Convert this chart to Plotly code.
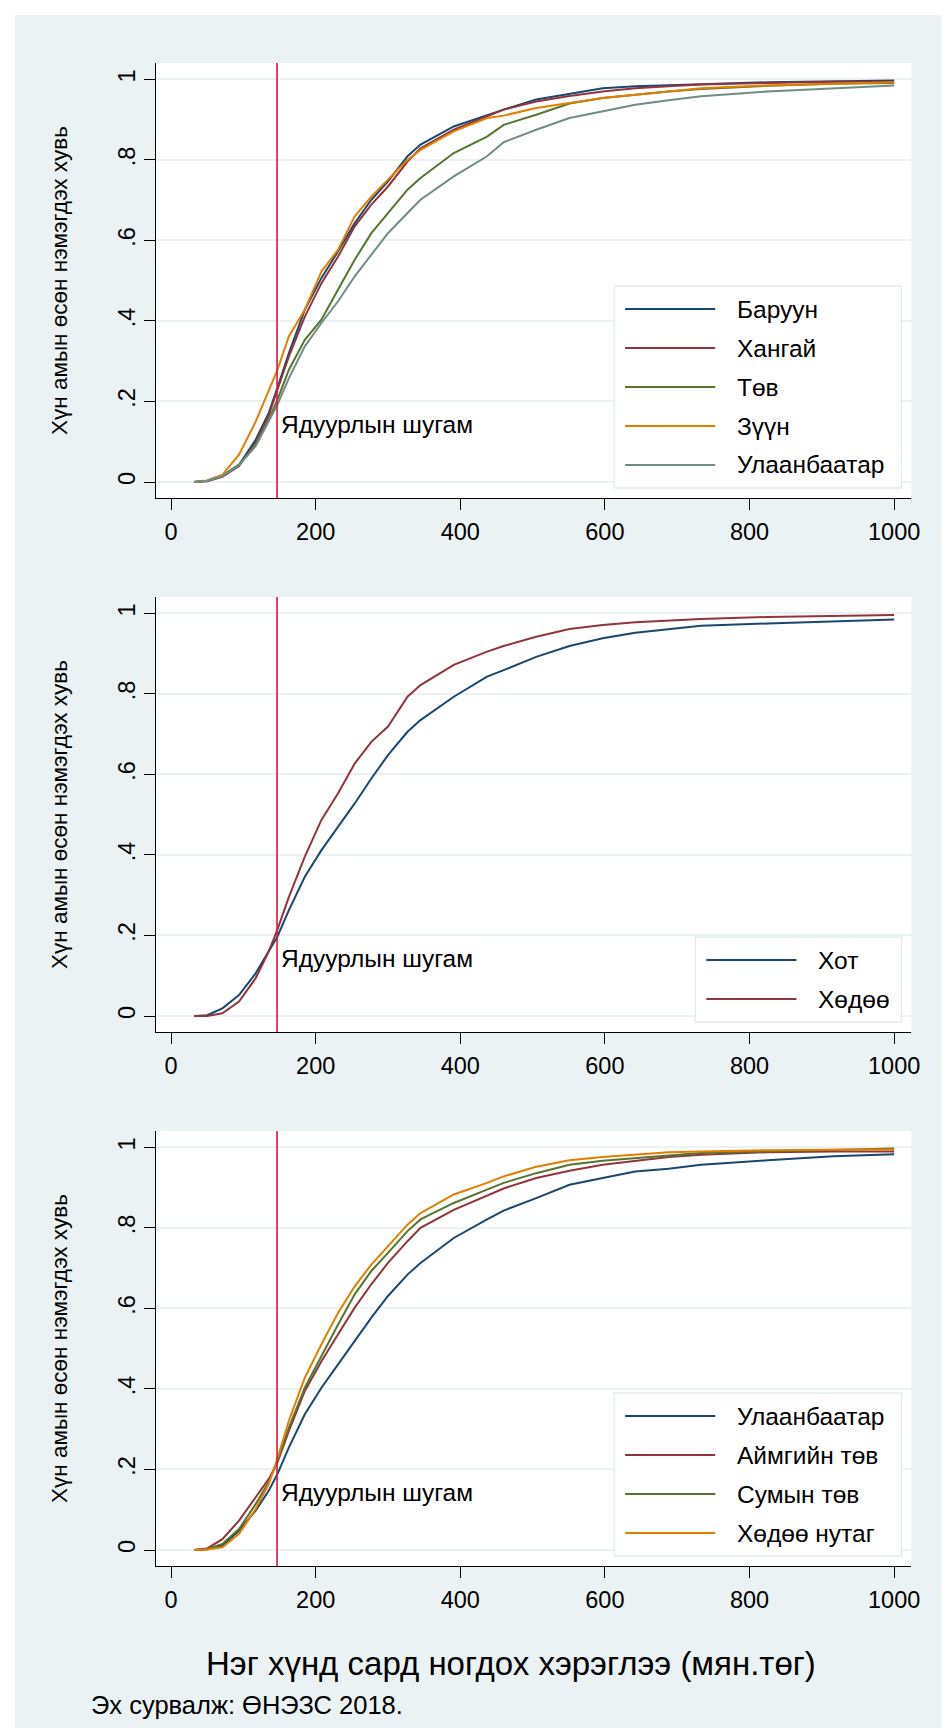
import plotly.graph_objects as go

# --- data ---
consumption = [32, 50, 71, 94, 117, 135, 147, 163, 185, 208, 231, 254, 277, 300, 327,
               345, 391, 437, 460, 505, 551, 597, 642, 688, 733, 825, 916, 1000]
poverty_line = 146.6

region_names = ["Баруун", "Хангай", "Төв", "Зүүн", "Улаанбаатар"]
baruun = [0, 0.003, 0.016, 0.043, 0.105, 0.171, 0.233, 0.32, 0.428, 0.507, 0.573, 0.643, 0.701, 0.747,
          0.809, 0.838, 0.883, 0.912, 0.925, 0.95, 0.964, 0.978, 0.983, 0.986, 0.988, 0.993, 0.996, 0.997]
khangai = [0, 0.002, 0.013, 0.04, 0.097, 0.165, 0.229, 0.312, 0.411, 0.494, 0.56, 0.635, 0.689, 0.734,
           0.796, 0.829, 0.875, 0.908, 0.925, 0.945, 0.959, 0.97, 0.978, 0.983, 0.987, 0.991, 0.994, 0.994]
tuv = [0, 0.003, 0.015, 0.042, 0.093, 0.155, 0.204, 0.279, 0.353, 0.403, 0.478, 0.552, 0.618, 0.668,
       0.726, 0.755, 0.817, 0.858, 0.887, 0.912, 0.94, 0.954, 0.962, 0.97, 0.976, 0.984, 0.989, 0.991]
zuun = [0, 0.004, 0.018, 0.068, 0.15, 0.228, 0.278, 0.362, 0.428, 0.523, 0.577, 0.66, 0.709, 0.751,
        0.80, 0.825, 0.871, 0.904, 0.91, 0.929, 0.941, 0.954, 0.962, 0.971, 0.978, 0.985, 0.99, 0.993]
ub_region = [0, 0.003, 0.015, 0.042, 0.089, 0.15, 0.192, 0.258, 0.337, 0.395, 0.449, 0.511, 0.565, 0.618,
             0.668, 0.701, 0.759, 0.809, 0.844, 0.875, 0.904, 0.921, 0.937, 0.948, 0.958, 0.97, 0.978, 0.985]

area_names = ["Хот", "Хөдөө"]
khot = [0, 0.002, 0.019, 0.052, 0.106, 0.16, 0.197, 0.263, 0.346, 0.412, 0.47, 0.528, 0.59, 0.648,
        0.706, 0.735, 0.793, 0.843, 0.859, 0.892, 0.919, 0.938, 0.952, 0.961, 0.969, 0.975, 0.981, 0.985]
khudoo = [0, 0, 0.007, 0.036, 0.094, 0.16, 0.214, 0.296, 0.396, 0.487, 0.553, 0.627, 0.681, 0.719,
          0.793, 0.822, 0.872, 0.905, 0.919, 0.942, 0.961, 0.971, 0.978, 0.982, 0.986, 0.991, 0.994, 0.996]

loc_names = ["Улаанбаатар", "Аймгийн төв", "Сумын төв", "Хөдөө нутаг"]
ub_loc = [0, 0.002, 0.011, 0.048, 0.098, 0.147, 0.188, 0.255, 0.337, 0.403, 0.461, 0.519, 0.577, 0.631,
          0.684, 0.713, 0.775, 0.821, 0.843, 0.874, 0.907, 0.924, 0.94, 0.947, 0.957, 0.968, 0.978, 0.983]
aimag = [0, 0.004, 0.027, 0.073, 0.131, 0.176, 0.217, 0.296, 0.395, 0.469, 0.536, 0.602, 0.66, 0.713,
         0.767, 0.8, 0.845, 0.879, 0.898, 0.924, 0.942, 0.957, 0.967, 0.976, 0.982, 0.988, 0.99, 0.99]
sum_center = [0, 0.002, 0.015, 0.052, 0.114, 0.168, 0.221, 0.304, 0.403, 0.482, 0.56, 0.635, 0.693, 0.738,
              0.792, 0.821, 0.862, 0.895, 0.912, 0.936, 0.957, 0.967, 0.974, 0.98, 0.986, 0.99, 0.993, 0.997]
rural = [0, 0.001, 0.007, 0.04, 0.102, 0.164, 0.226, 0.321, 0.428, 0.511, 0.589, 0.655, 0.709, 0.755,
         0.808, 0.837, 0.883, 0.912, 0.928, 0.952, 0.968, 0.976, 0.982, 0.988, 0.99, 0.993, 0.994, 0.995]

y_ticks = [0, 0.2, 0.4, 0.6, 0.8, 1]
y_ticktext = ["0", ".2", ".4", ".6", ".8", "1"]
x_ticks = [0, 200, 400, 600, 800, 1000]

y_title = "Хүн амын өсөн нэмэгдэх хувь"
x_title = "Нэг хүнд сард ногдох хэрэглээ (мян.төг)"
note = "Эх сурвалж: ӨНЭЗС 2018."
pov_label = "Ядуурлын шугам"

# --- styling ---
NAVY, MAROON, GREEN, ORANGE, TEAL = "#1a476f", "#90353b", "#55752f", "#e37e00", "#6e8e84"
BG = "#eaf2f3"
FONT = "Arial, Liberation Sans, sans-serif"
TXT = 24.5
TICK = 23.5

W, H = 949, 1728
PLOT_L, PLOT_R = 149.5, 912
PANEL_TOPS = [55, 589, 1123]
PANEL_H = 435

panels = [
    (region_names, [baruun, khangai, tuv, zuun, ub_region], [NAVY, MAROON, GREEN, ORANGE, TEAL], 290),
    (area_names, [khot, khudoo], [NAVY, MAROON], 208),
    (loc_names, [ub_loc, aimag, sum_center, rural], [NAVY, MAROON, GREEN, ORANGE], 290),
]


def px(x):
    return x / W


def py(y):
    return 1 - y / H


fig = go.Figure()
shapes = []
annotations = []

# white strips along the top and left edge, like the exported graph
shapes.append(dict(type="rect", xref="paper", yref="paper", x0=0, x1=1, y0=py(7), y1=1,
                   fillcolor="white", line_width=0, layer="below"))
shapes.append(dict(type="rect", xref="paper", yref="paper", x0=0, x1=px(7), y0=0, y1=1,
                   fillcolor="white", line_width=0, layer="below"))

for i, (names, series, colors, legend_w) in enumerate(panels):
    n = "" if i == 0 else str(i + 1)
    top = PANEL_TOPS[i]
    bottom = top + PANEL_H

    for name, vals, col in zip(names, series, colors):
        fig.add_trace(go.Scatter(x=consumption, y=vals, mode="lines", name=name,
                                 line=dict(color=col, width=2), showlegend=False,
                                 xaxis="x" + n, yaxis="y" + n))

    fig.update_layout(**{
        "xaxis" + n: dict(domain=[px(PLOT_L), px(PLOT_R)], anchor="y" + n, range=[-20.7, 1023.8],
                          tickvals=x_ticks, ticks="outside", ticklen=11, tickcolor="black",
                          ticklabelstandoff=2,
                          showline=True, linecolor="black", linewidth=1.3, showgrid=False,
                          zeroline=False, tickfont=dict(size=TICK, color="black")),
        "yaxis" + n: dict(domain=[py(bottom), py(top)], anchor="x" + n, range=[-0.0397, 1.0407],
                          tickvals=y_ticks, ticktext=y_ticktext, tickangle=-90, ticks="outside",
                          ticklen=11, tickcolor="black", showline=True, linecolor="black",
                          linewidth=1.3, showgrid=True, gridcolor=BG, gridwidth=1.5,
                          zeroline=False, tickfont=dict(size=TICK, color="black")),
    })

    # poverty line and its label
    shapes.append(dict(type="line", xref="x" + n, yref="y" + n + " domain", x0=poverty_line,
                       x1=poverty_line, y0=0, y1=1, line=dict(color="#d7193f", width=1.6)))
    annotations.append(dict(xref="x" + n, yref="y" + n, x=poverty_line, y=0.143, xshift=2,
                            text=pov_label, showarrow=False, xanchor="left", yanchor="middle",
                            font=dict(size=TXT, color="black")))

    # y axis title
    annotations.append(dict(xref="paper", yref="paper", x=px(52), y=py(top + PANEL_H / 2),
                            text=y_title, textangle=-90, showarrow=False,
                            xanchor="center", yanchor="middle", font=dict(size=22.5, color="black")))

    # legend box drawn like the Stata key
    k = len(names)
    box_r = PLOT_R - 10
    box_l = box_r - legend_w
    box_b = bottom - 10
    box_t = box_b - (46 + 39 * (k - 1))
    shapes.append(dict(type="rect", xref="paper", yref="paper", x0=px(box_l), x1=px(box_r),
                       y0=py(box_b), y1=py(box_t), fillcolor="white",
                       line=dict(color="#e3ebec", width=1.3)))
    for j, (name, col) in enumerate(zip(names, colors)):
        ry = box_t + 23 + 39 * j
        shapes.append(dict(type="line", xref="paper", yref="paper", x0=px(box_l + 11),
                           x1=px(box_l + 102), y0=py(ry), y1=py(ry), line=dict(color=col, width=2)))
        annotations.append(dict(xref="paper", yref="paper", x=px(box_l + 122), y=py(ry), text=name,
                                showarrow=False, xanchor="left", yanchor="middle",
                                font=dict(size=TXT, color="black")))

annotations.append(dict(xref="paper", yref="paper", x=px(508), y=py(1655), text=x_title,
                        showarrow=False, xanchor="center", yanchor="middle",
                        font=dict(size=33, color="black")))
annotations.append(dict(xref="paper", yref="paper", x=px(82), y=py(1697), text=note,
                        showarrow=False, xanchor="left", yanchor="middle",
                        font=dict(size=25.5, color="black")))

fig.update_layout(
    width=W, height=H,
    margin=dict(l=0, r=0, t=0, b=0),
    paper_bgcolor=BG, plot_bgcolor="white",
    font=dict(family=FONT, color="black"),
    shapes=shapes, annotations=annotations,
    showlegend=False,
)

fig.write_html("out.html")
